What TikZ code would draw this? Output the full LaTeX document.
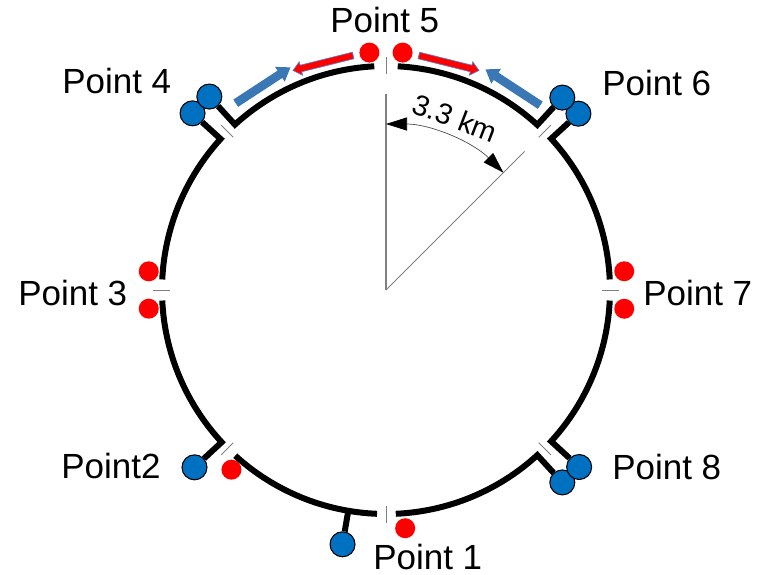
\documentclass[tikz,border=0pt]{standalone}
\usepackage{fontspec}
\setmainfont{Liberation Sans}
\usetikzlibrary{arrows.meta,shapes.arrows}
\definecolor{ptblue}{HTML}{0070C0}
\definecolor{ptred}{HTML}{FF0000}
\definecolor{flowblue}{HTML}{3A77B5}
\definecolor{flowedge}{HTML}{5B7FC4}
\definecolor{tickgray}{HTML}{808080}
\tikzset{
  ring/.style={line width=0.12cm, black, line join=miter},
  bluept/.style={circle, draw=black, line width=0.6pt, fill=ptblue,
                 minimum size=0.5cm, inner sep=0pt},
  redpt/.style={circle, fill=ptred, minimum size=0.4cm, inner sep=0pt},
  gaptick/.style={tickgray, line width=0.5pt},
  radline/.style={tickgray, line width=0.6pt},
  dimarc/.style={black!70, line width=0.4pt,
                 {Triangle[length=12pt,width=7.5pt,black]}-{Triangle[length=12pt,width=7.5pt,black]}},
  lbl/.style={font=\fontsize{19.9}{24}\selectfont, inner sep=0pt, anchor=base west},
  redflow/.style={single arrow, draw=flowedge, fill=ptred, line width=0.4pt,
                  inner xsep=0pt, inner ysep=0.06cm, single arrow head extend=0.07cm,
                  single arrow tip angle=80, minimum height=1.24cm},
  blueflow/.style={single arrow, fill=flowblue, inner xsep=0pt, inner ysep=0.08cm,
                   single arrow head extend=0.09cm, single arrow tip angle=70,
                   minimum height=1.31cm},
}

\begin{document}
\begin{tikzpicture}[scale=0.02]
    \useasboundingbox (-386,-284) rectangle (380,290);
    \node[bluept] (p4b) at (137.6:262) {};
    \node[bluept] (p4a) at (132.4:262) {};
    \node[bluept] (p6b) at (42.5:261) {};
    \node[bluept] (p6a) at (47.5:261) {};
    \node[bluept] (p8a) at (312.5:261) {};
    \node[bluept] (p8b) at (317.5:262) {};
    \node[bluept] (p2b) at (222.8:261) {};
    \node[bluept] (p1b) at (260.3:258) {};
    \node[redpt] (p5l) at (94:238) {};
    \node[redpt] (p5r) at (86:238) {};
    \node[redpt] (p3u) at (175.5:238) {};
    \node[redpt] (p3d) at (184.5:238) {};
    \node[redpt] (p7u) at (4.5:239) {};
    \node[redpt] (p7d) at (-4.5:239) {};
    \node[redpt] (p1r) at (274.6:239) {};
    \node[redpt] (p2r) at (229.3:237) {};
    \draw[ring] (p6a) -- (47.5:224) arc[start angle=47.5, end angle=87, radius=224];
    \draw[ring] (93:224) arc[start angle=93, end angle=132.4, radius=224] -- (p4a);
    \draw[ring] (p4b) -- (137.6:224) arc[start angle=137.6, end angle=177.3, radius=224];
    \draw[ring] (182.7:224) arc[start angle=182.7, end angle=222.8, radius=224] -- (p2b);
    \draw[ring] (227.7:224) arc[start angle=227.7, end angle=267.7, radius=224];
    \draw[ring] (260.3:224) -- (p1b);
    \draw[ring] (272.5:224) arc[start angle=272.5, end angle=312.5, radius=224] -- (p8a);
    \draw[ring] (p8b) -- (317.5:224) arc[start angle=317.5, end angle=357.3, radius=224];
    \draw[ring] (2.7:224) arc[start angle=2.7, end angle=42.5, radius=224] -- (p6b);
    \foreach \a in {0,45,...,315}
      \draw[gaptick] (\a:216) -- (\a:233);
    \coordinate (ctr) at (0,0);
    \coordinate (up) at (90:196);
    \coordinate (diag) at (45:196);
    \draw[radline] (ctr) -- (up);
    \draw[radline] (ctr) -- (diag);
    \draw[dimarc] (90:166) arc[start angle=90, end angle=45, radius=166];
    \node[font=\fontsize{16.5}{20}\selectfont, inner sep=0pt, anchor=base, rotate=-21] (dist) at (68:175) {3.3 km};
    \node[redflow, rotate=194] (fl5l) at (-61,227.5) {};
    \node[redflow, rotate=-14] (fl5r) at (61,227.5) {};
    \node[blueflow, rotate=33.2] (fl4) at (-125.5,203) {};
    \node[blueflow, rotate=146.8] (fl6) at (129.5,201) {};
    \node[lbl] (l5) at (-56,258) {Point 5};
    \node[lbl] (l4) at (-324,197) {Point 4};
    \node[lbl] (l6) at (216,195) {Point 6};
    \node[lbl] (l3) at (-368,-15) {Point 3};
    \node[lbl] (l7) at (257,-15) {Point 7};
    \node[lbl] (l2) at (-325,-188) {Point2};
    \node[lbl] (l8) at (226,-189) {Point 8};
    \node[lbl] (l1) at (-13,-279) {Point 1};
  \end{tikzpicture}
\end{document}
